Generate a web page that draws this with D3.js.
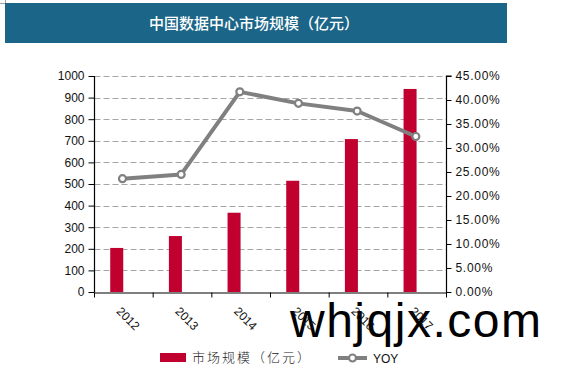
<!DOCTYPE html>
<html>
<head>
<meta charset="utf-8">
<script src="https://d3js.org/d3.v7.min.js"></script>
<style>
	body { margin: 0; background: #fff; }
	svg { display: block; }
</style>
</head>
<body>
<div></div>
<script>
// chart data
var years = ['2012', '2013', '2014', '2015', '2016', '2017'];
var market = [204, 259, 367, 515, 708, 940];
var yoy = [0.236, 0.245, 0.417, 0.393, 0.377, 0.324];
var leftTicks = [0, 100, 200, 300, 400, 500, 600, 700, 800, 900, 1000];
var rightTicks = [0, 0.05, 0.10, 0.15, 0.20, 0.25, 0.30, 0.35, 0.40, 0.45];
var titleText = '中国数据中心市场规模（亿元）';
var legendNames = ['市场规模（亿元）', 'YOY'];

var svg = d3.select('body').select('div').append('svg')
	.attr('width', 577)
	.attr('height', 368);

var x = d3.scaleBand().domain(years).range([94.5, 446.5]);
var yLeft = d3.scaleLinear().domain([0, 1000]).range([292, 76]);
var yRight = d3.scaleLinear().domain([0, 0.45]).range([292, 76]);
var bw = x.bandwidth();
var labelFont = 'Arial, "Liberation Sans", sans-serif';

// little corner mark top left
svg.append('path')
	.attr('d', 'M0,3.5H5.5V0')
	.attr('fill', 'none')
	.attr('stroke', '#a0a0a0');

// title banner
svg.append('rect')
	.attr('x', 5).attr('y', 3)
	.attr('width', 502).attr('height', 40)
	.style('fill', '#1b6688');
svg.append('text')
	.attr('x', 254).attr('y', 29)
	.attr('text-anchor', 'middle')
	.style('font-family', '"Noto Sans CJK SC", sans-serif')
	.style('font-size', '15px')
	.style('font-weight', 500)
	.style('fill', '#fff')
	.text(titleText);

// gridlines
svg.append('g').selectAll('line')
	.data(leftTicks.slice(1))
	.enter().append('line')
	.attr('x1', 94.5).attr('x2', 446.5)
	.attr('y1', function(d) { return Math.round(yLeft(d)) + 0.5; })
	.attr('y2', function(d) { return Math.round(yLeft(d)) + 0.5; })
	.attr('stroke', '#a6a6a6')
	.attr('stroke-dasharray', '6,3');

// bars
svg.append('g').selectAll('rect')
	.data(market)
	.enter().append('rect')
	.attr('x', function(d, i) { return x(years[i]) + bw * 0.268; })
	.attr('width', bw * 0.222)
	.attr('y', function(d) { return yLeft(d); })
	.attr('height', function(d) { return yLeft(0) - yLeft(d); })
	.style('fill', '#c0002f');

// watermark
svg.append('text')
	.attr('x', 290).attr('y', 337)
	.style('font-family', labelFont)
	.style('font-size', '48px')
	.style('letter-spacing', '1.5px')
	.style('fill', '#000')
	.text('whjqjx.com');

// left axis
var leftAxis = svg.append('g')
	.attr('transform', 'translate(94.5,0)')
	.call(d3.axisLeft(yLeft).tickValues(leftTicks).tickSize(6).tickPadding(4).tickFormat(d3.format('d')));

// right axis
var rightAxis = svg.append('g')
	.attr('transform', 'translate(446.5,0)')
	.call(d3.axisRight(yRight).tickValues(rightTicks).tickSize(5).tickPadding(4).tickFormat(d3.format('.2%')));

// x axis
var xAxis = svg.append('g')
	.attr('transform', 'translate(0,292.5)')
	.call(d3.axisBottom(x).tickSize(0).tickFormat(''));
xAxis.selectAll('.tick').remove();
xAxis.selectAll('line.sep')
	.data(years.concat(['end']))
	.enter().append('line')
	.attr('class', 'sep')
	.attr('x1', function(d, i) { return 94.5 + i * bw; })
	.attr('x2', function(d, i) { return 94.5 + i * bw; })
	.attr('y1', 0).attr('y2', 5)
	.attr('stroke', '#000');
svg.append('line')
	.attr('x1', 446.5).attr('x2', 446.5)
	.attr('y1', 292).attr('y2', 297)
	.attr('stroke', '#000');

[leftAxis, rightAxis, xAxis].forEach(function(a) {
	a.select('.domain').attr('stroke', '#000').attr('stroke-width', 1.2);
	a.selectAll('.tick line').attr('stroke', '#000');
	a.selectAll('text')
		.style('font-family', labelFont)
		.style('font-size', '12px')
		.style('fill', '#111');
});
rightAxis.selectAll('text').style('letter-spacing', '0.7px');
leftAxis.select('.domain').attr('d', 'M0,76V292.5');
rightAxis.select('.domain').attr('d', 'M5,76H0V292.5');

// rotated year labels
svg.append('g').selectAll('text')
	.data(years)
	.enter().append('text')
	.attr('transform', function(d) {
		return 'translate(' + (x(d) + bw / 2 - 8) + ',312) rotate(45)';
	})
	.style('font-family', labelFont)
	.style('font-size', '12px')
	.style('fill', '#111')
	.text(function(d) { return d; });

// yoy line
var line = d3.line()
	.x(function(d, i) { return x(years[i]) + bw * 0.477; })
	.y(function(d) { return yRight(d); });
svg.append('path')
	.datum(yoy)
	.attr('d', line)
	.attr('fill', 'none')
	.attr('stroke', '#808080')
	.attr('stroke-width', 4)
	.attr('stroke-linejoin', 'round');
svg.append('g').selectAll('circle')
	.data(yoy)
	.enter().append('circle')
	.attr('cx', function(d, i) { return x(years[i]) + bw * 0.477; })
	.attr('cy', function(d) { return yRight(d); })
	.attr('r', 3.5)
	.style('fill', '#fff')
	.attr('stroke', '#808080')
	.attr('stroke-width', 2.2);

// legend
var legend = svg.append('g');
legend.append('rect')
	.attr('x', 160).attr('y', 353)
	.attr('width', 26).attr('height', 9)
	.style('fill', '#c0002f');
legend.append('text')
	.attr('x', 192).attr('y', 362)
	.style('font-family', '"Noto Sans CJK SC", sans-serif')
	.style('font-size', '13px')
	.style('font-weight', 300)
	.style('letter-spacing', '2px')
	.style('fill', '#222')
	.text(legendNames[0]);
legend.append('line')
	.attr('x1', 338).attr('x2', 367)
	.attr('y1', 358).attr('y2', 358)
	.attr('stroke', '#808080')
	.attr('stroke-width', 4);
legend.append('circle')
	.attr('cx', 352.5).attr('cy', 358)
	.attr('r', 3.5)
	.style('fill', '#fff')
	.attr('stroke', '#808080')
	.attr('stroke-width', 2.2);
legend.append('text')
	.attr('x', 373).attr('y', 363)
	.style('font-family', labelFont)
	.style('font-size', '12px')
	.style('fill', '#111')
	.text(legendNames[1]);
</script>
</body>
</html>
